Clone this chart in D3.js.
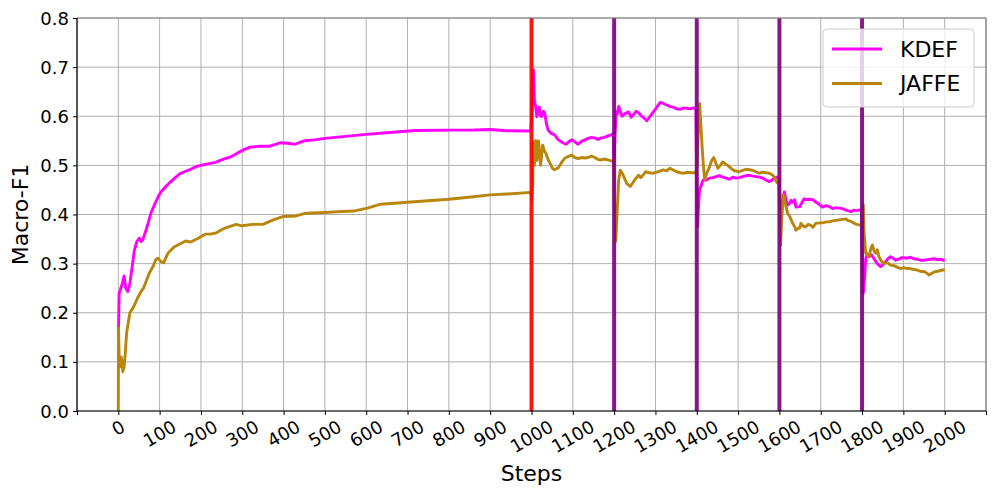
<!DOCTYPE html>
<meta charset="utf-8">
<style>
body { margin: 0; background: #fff; }
text { font-family: "DejaVu Sans", sans-serif; fill: #000; }
.grid line { stroke: #b0b0b0; stroke-width: 1; }
.tick-label { font-size: 18px; }
.axis-label { font-size: 22px; }
.legend text { font-size: 22px; }
</style>
<svg width="997" height="498"></svg>
<script src="https://d3js.org/d3.v7.min.js"></script>
<script>

// values: [step, macro-F1]
var kdef = [
  [0,0.149],[2,0.24],[6,0.25],[10,0.26],[14,0.275],[18,0.25],[23,0.243],[28,0.26],[33,0.29],[39,0.328],
  [45,0.345],[51,0.352],[55,0.345],[59,0.348],[67,0.368],[73,0.385],[79,0.403],[85,0.415],[91,0.426],[97,0.437],
  [103,0.446],[115,0.457],[127,0.467],[139,0.476],[151,0.484],[163,0.488],[175,0.492],[187,0.497],[199,0.500],[211,0.502],
  [223,0.504],[235,0.506],[247,0.510],[259,0.514],[271,0.517],[283,0.522],[295,0.528],[307,0.533],[319,0.537],[343,0.539],
  [367,0.539],[391,0.546],[410,0.545],[427,0.543],[450,0.550],[475,0.552],[500,0.555],[550,0.559],[600,0.563],[656,0.567],
  [720,0.571],[800,0.5717],[860,0.572],[900,0.573],[940,0.5706],[998,0.570],
  [1001,0.60],[1003,0.68],[1005,0.694],[1007,0.633],[1010,0.62],[1013,0.599],[1016,0.61],[1019,0.619],[1022,0.6],[1025,0.6],
  [1029,0.61],[1032,0.607],[1036,0.585],[1040,0.572],[1048,0.565],[1056,0.562],[1064,0.553],[1072,0.548],[1078,0.545],[1084,0.543],
  [1090,0.548],[1097,0.552],[1105,0.548],[1113,0.543],[1121,0.549],[1129,0.552],[1137,0.555],[1145,0.557],[1153,0.556],[1161,0.553],
  [1169,0.556],[1177,0.557],[1185,0.56],[1193,0.562],[1198,0.565],[1200,0.514],[1202,0.56],[1205,0.609],[1208,0.605],[1211,0.62],
  [1215,0.61],[1219,0.6],[1227,0.606],[1235,0.609],[1241,0.598],[1247,0.603],[1253,0.61],[1259,0.607],[1267,0.6],[1273,0.596],
  [1279,0.591],[1287,0.6],[1295,0.609],[1303,0.618],[1311,0.628],[1319,0.626],[1327,0.623],[1335,0.62],[1344,0.618],[1352,0.615],
  [1360,0.614],[1368,0.617],[1376,0.616],[1384,0.615],[1392,0.617],[1398,0.616],[1400,0.45],[1402,0.375],[1405,0.43],[1407,0.45],
  [1411,0.46],[1415,0.470],[1423,0.47],[1431,0.474],[1439,0.475],[1447,0.477],[1455,0.479],[1463,0.476],[1471,0.474],[1479,0.472],
  [1487,0.476],[1495,0.474],[1503,0.475],[1511,0.477],[1519,0.479],[1527,0.48],[1535,0.478],[1544,0.477],[1552,0.476],[1560,0.474],
  [1568,0.47],[1576,0.467],[1582,0.47],[1588,0.474],[1594,0.476],[1599,0.476],
  [1601,0.40],[1604,0.38],[1608,0.43],[1612,0.446],[1616,0.43],[1620,0.419],[1625,0.423],[1628,0.429],[1632,0.425],[1637,0.43],
  [1640,0.415],[1649,0.416],[1655,0.425],[1660,0.432],[1665,0.43],[1673,0.431],[1681,0.43],[1689,0.425],[1697,0.42],[1704,0.415],
  [1713,0.418],[1721,0.416],[1729,0.412],[1737,0.414],[1745,0.413],[1753,0.412],[1761,0.409],[1769,0.407],[1775,0.406],[1781,0.409],
  [1787,0.408],[1793,0.409],[1799,0.41],
  [1801,0.30],[1803,0.24],[1806,0.27],[1809,0.31],[1813,0.32],[1817,0.314],[1823,0.318],[1829,0.31],[1837,0.30],[1845,0.294],
  [1851,0.298],[1857,0.304],[1863,0.31],[1869,0.314],[1875,0.311],[1881,0.307],[1889,0.309],[1895,0.312],[1901,0.312],[1909,0.311],
  [1917,0.313],[1925,0.31],[1933,0.309],[1941,0.307],[1950,0.307],[1958,0.308],[1966,0.309],[1974,0.31],[1982,0.308],[1990,0.309],
  [2000,0.306]
];

var jaffe = [
  [0,0],[0.5,0.169],[2,0.11],[4,0.09],[7,0.11],[11,0.08],[14,0.09],[17,0.12],[20,0.158],[24,0.18],
  [28,0.2],[37,0.212],[46,0.229],[55,0.243],[61,0.25],[67,0.263],[75,0.281],[84,0.294],[91,0.309],[96,0.311],
  [103,0.304],[110,0.302],[120,0.321],[128,0.328],[135,0.334],[151,0.341],[163,0.346],[175,0.344],[190,0.35],[210,0.36],
  [222,0.36],[235,0.362],[248,0.368],[260,0.373],[285,0.38],[300,0.377],[325,0.38],[350,0.38],[375,0.389],[400,0.396],
  [430,0.397],[450,0.402],[470,0.403],[500,0.404],[540,0.406],[570,0.407],[603,0.413],[635,0.421],[700,0.425],[750,0.428],
  [800,0.431],[860,0.436],[900,0.440],[940,0.4417],[998,0.445],
  [1001,0.43],[1003,0.46],[1004,0.548],[1007,0.5],[1010,0.55],[1013,0.51],[1017,0.55],[1022,0.50],[1027,0.541],[1031,0.53],
  [1035,0.524],[1040,0.512],[1045,0.504],[1050,0.495],[1055,0.491],[1060,0.493],[1065,0.495],[1072,0.505],[1080,0.514],[1088,0.518],
  [1097,0.521],[1105,0.516],[1113,0.514],[1121,0.516],[1129,0.515],[1137,0.516],[1145,0.519],[1153,0.516],[1161,0.512],[1169,0.511],
  [1177,0.513],[1185,0.511],[1193,0.509],[1199,0.508],
  [1201,0.40],[1204,0.345],[1207,0.40],[1211,0.47],[1215,0.49],[1219,0.485],[1223,0.478],[1227,0.47],[1231,0.463],[1235,0.46],
  [1239,0.457],[1243,0.462],[1247,0.467],[1253,0.474],[1259,0.48],[1264,0.475],[1268,0.478],[1276,0.487],[1285,0.485],[1295,0.484],
  [1305,0.487],[1319,0.491],[1327,0.489],[1335,0.494],[1344,0.49],[1352,0.487],[1360,0.485],[1368,0.484],[1378,0.486],[1388,0.485],
  [1398,0.485],
  [1401,0.50],[1404,0.58],[1407,0.626],[1410,0.58],[1413,0.537],[1416,0.5],[1419,0.47],[1424,0.484],[1431,0.497],[1436,0.51],
  [1441,0.516],[1446,0.505],[1451,0.494],[1457,0.5],[1463,0.507],[1469,0.503],[1475,0.5],[1483,0.494],[1491,0.489],[1497,0.488],
  [1503,0.487],[1511,0.49],[1519,0.492],[1527,0.491],[1535,0.49],[1543,0.487],[1551,0.484],[1559,0.486],[1568,0.485],[1576,0.484],
  [1584,0.48],[1590,0.472],[1594,0.465],[1599,0.462],
  [1601,0.38],[1603,0.338],[1606,0.40],[1609,0.44],[1612,0.432],[1616,0.416],[1620,0.402],[1625,0.396],[1632,0.382],[1637,0.375],
  [1640,0.368],[1645,0.372],[1649,0.372],[1652,0.382],[1658,0.376],[1664,0.375],[1670,0.38],[1676,0.378],[1681,0.374],[1688,0.382],
  [1697,0.383],[1705,0.383],[1713,0.385],[1721,0.385],[1729,0.387],[1737,0.388],[1745,0.389],[1753,0.39],[1761,0.391],[1765,0.388],
  [1773,0.386],[1781,0.382],[1787,0.38],[1793,0.379],[1799,0.378],
  [1801,0.40],[1803,0.42],[1805,0.362],[1809,0.321],[1813,0.318],[1817,0.314],[1821,0.33],[1825,0.338],[1829,0.326],[1833,0.321],
  [1837,0.328],[1841,0.314],[1847,0.305],[1853,0.30],[1861,0.302],[1869,0.297],[1877,0.296],[1885,0.293],[1893,0.29],[1901,0.292],
  [1909,0.29],[1917,0.29],[1925,0.288],[1933,0.287],[1942,0.284],[1950,0.284],[1956,0.281],[1962,0.277],[1970,0.281],[1978,0.284],
  [1986,0.285],[1994,0.287],[2000,0.287]
];

var seriesNames = ["KDEF", "JAFFE"];
var seriesColors = ["#ff00ff", "#b8860b"];

// task boundaries
var boundaries = [1000, 1200, 1400, 1600, 1800];
var boundaryColors = ["#ff0000", "#800080", "#800080", "#800080", "#800080"];

var xTicks = d3.range(-100, 2101, 100);
var xTickLabels = d3.range(0, 2001, 100);
var yTicks = d3.range(0, 0.81, 0.1);

var svg = d3.select("svg");
var pLeft = 77, pRight = 986, pTop = 18, pBottom = 411;

var x = d3.scaleLinear().domain([-100, 2100]).range([pLeft, pRight]);
var y = d3.scaleLinear().domain([0, 0.8]).range([pBottom, pTop]);

// grid
var grid = svg.append("g").attr("class", "grid");
grid.selectAll(".gx").data(xTicks).enter().append("line")
    .attr("x1", function(d) { return x(d); }).attr("x2", function(d) { return x(d); })
    .attr("y1", pTop).attr("y2", pBottom);
grid.selectAll(".gy").data(yTicks).enter().append("line")
    .attr("x1", pLeft).attr("x2", pRight)
    .attr("y1", function(d) { return y(d); }).attr("y2", function(d) { return y(d); });

var line = d3.line()
    .x(function(d) { return x(d[0]); })
    .y(function(d) { return y(d[1]); });

svg.append("g").selectAll("path")
    .data([kdef, jaffe])
    .enter().append("path")
    .attr("d", line)
    .attr("fill", "none")
    .attr("stroke", function(d, i) { return seriesColors[i]; })
    .attr("stroke-width", 2.9)
    .attr("stroke-linejoin", "round");

svg.append("g").selectAll("line")
    .data(boundaries)
    .enter().append("line")
    .attr("x1", function(d) { return x(d); }).attr("x2", function(d) { return x(d); })
    .attr("y1", pTop).attr("y2", pBottom)
    .attr("stroke", function(d, i) { return boundaryColors[i]; })
    .attr("stroke-opacity", 0.9)
    .attr("stroke-width", 4);

// axes
var xAxis = svg.append("g").attr("transform", "translate(0," + pBottom + ")")
    .call(d3.axisBottom(x).tickValues(xTicks).tickSize(4).tickFormat(""));
var yAxis = svg.append("g").attr("transform", "translate(" + pLeft + ",0)")
    .call(d3.axisLeft(y).tickValues(yTicks).tickSize(4).tickFormat(""));
xAxis.select(".domain").remove();
yAxis.select(".domain").remove();
svg.selectAll(".tick line").attr("stroke", "#000").attr("stroke-width", 1);

svg.append("g").selectAll("text").data(yTicks).enter().append("text")
    .attr("class", "tick-label")
    .attr("x", pLeft - 8).attr("y", function(d) { return y(d); })
    .attr("text-anchor", "end").attr("dominant-baseline", "central")
    .text(function(d) { return d.toFixed(1); });

var xl = svg.append("g").selectAll("text").data(xTickLabels).enter().append("text")
    .attr("class", "tick-label")
    .attr("text-anchor", "middle").attr("dominant-baseline", "central")
    .text(function(d) { return d; });
xl.each(function(d) {
  var w = this.getComputedTextLength();
  var cy = pBottom + 7 + (w * 0.5 + 16 * 0.866) / 2;
  d3.select(this).attr("transform", "translate(" + x(d) + "," + cy + ") rotate(-30)");
});

// spines
svg.append("line").attr("x1", pRight).attr("x2", pRight).attr("y1", pTop).attr("y2", pBottom)
    .attr("stroke", "#808080").attr("stroke-width", 1.2);
svg.append("line").attr("x1", pLeft).attr("x2", pRight).attr("y1", pTop).attr("y2", pTop)
    .attr("stroke", "#808080").attr("stroke-width", 1.2);
svg.append("line").attr("x1", pLeft).attr("x2", pLeft).attr("y1", pTop).attr("y2", pBottom)
    .attr("stroke", "#000").attr("stroke-width", 1.2);
svg.append("line").attr("x1", pLeft).attr("x2", pRight).attr("y1", pBottom).attr("y2", pBottom)
    .attr("stroke", "#000").attr("stroke-width", 1.2);

svg.append("text").attr("class", "axis-label")
    .attr("x", (pLeft + pRight) / 2).attr("y", 481)
    .attr("text-anchor", "middle").text("Steps");
svg.append("text").attr("class", "axis-label")
    .attr("transform", "translate(28," + (pTop + pBottom) / 2 + ") rotate(-90)")
    .attr("text-anchor", "middle").text("Macro-F1");

// legend
var legend = svg.append("g").attr("class", "legend");
legend.append("rect")
    .attr("x", 823).attr("y", 29).attr("width", 151).attr("height", 78)
    .attr("rx", 4)
    .attr("fill", "#fff").attr("fill-opacity", 0.8)
    .attr("stroke", "#cccccc").attr("stroke-width", 1);
var items = legend.selectAll(".item").data(seriesNames).enter().append("g")
    .attr("transform", function(d, i) { return "translate(0," + (49 + i * 34.5) + ")"; });
items.append("line")
    .attr("x1", 832).attr("x2", 882).attr("y1", 0).attr("y2", 0)
    .attr("stroke", function(d, i) { return seriesColors[i]; })
    .attr("stroke-width", 2.9);
items.append("text")
    .attr("x", 900).attr("y", 0).attr("dominant-baseline", "central")
    .text(function(d) { return d; });

</script>
